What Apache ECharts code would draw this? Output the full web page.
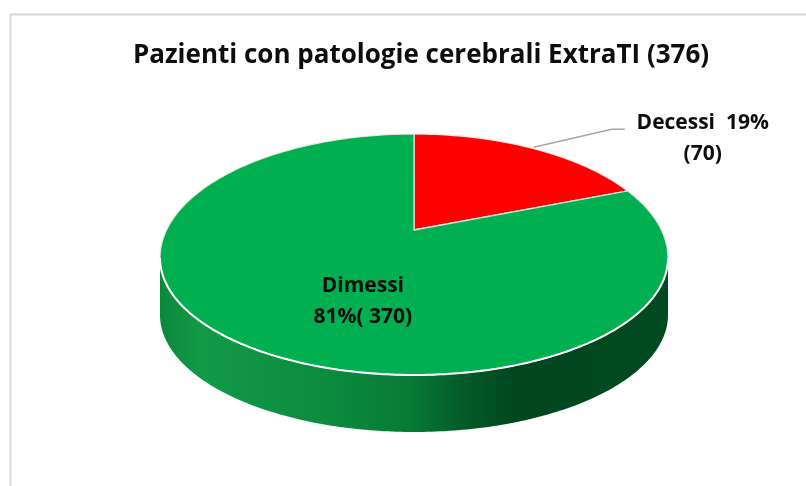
<!DOCTYPE html>
<html>
<head>
<meta charset="utf-8">
<script src="https://cdn.jsdelivr.net/npm/echarts@6/dist/echarts.min.js"></script>
<style>
  html, body { margin: 0; padding: 0; background: #ffffff; }
  #chart { width: 806px; height: 486px; }
</style>
</head>
<body>
<div id="chart"></div>
<script>
// Patient outcomes
const categories = ['Decessi', 'Dimessi'];
const counts = [70, 370];
const percentLabels = ['19%', '81%'];
const sliceColors = ['#ff0000', '#00b050'];
const titleText = 'Pazienti con patologie cerebrali ExtraTI (376)';

// Geometry of the tilted pie (pixels)
const CX = 414, CY = 258;       // centre of the top ellipse
const RX = 254;                 // horizontal radius
const RY_BACK = 124;            // vertical radius, far half
const RY_FRONT = 117;           // vertical radius, near half
const DEPTH = 57;               // thickness of the disc
const APEX = [414, 230];        // where slice edges meet on the top face
const FONT = '"Open Sans", "Noto Sans", sans-serif';

// point on the rim, angle in degrees clockwise from 12 o'clock
function rim(deg, dz) {
  const t = deg * Math.PI / 180;
  const c = Math.cos(t);
  return [CX + RX * Math.sin(t), CY - (c > 0 ? RY_BACK : RY_FRONT) * c + dz];
}
function arc(a0, a1, dz) {
  const pts = [];
  const n = Math.max(2, Math.ceil(a1 - a0));
  for (let k = 0; k <= n; k++) pts.push(rim(a0 + (a1 - a0) * k / n, dz));
  return pts;
}

const wallFill = new echarts.graphic.LinearGradient(CX - RX, 0, CX + RX, 0, [
  { offset: 0.00, color: '#0b873b' },
  { offset: 0.08, color: '#129a47' },
  { offset: 0.35, color: '#0b8a3e' },
  { offset: 0.50, color: '#077934' },
  { offset: 0.60, color: '#035a28' },
  { offset: 0.70, color: '#00461f' },
  { offset: 1.00, color: '#004a21' }
], true);

function renderSlice(params, api) {
  const i = params.dataIndex;
  const total = counts.reduce((s, v) => s + v, 0);
  let before = 0;
  for (let k = 0; k < i; k++) before += counts[k];
  const a0 = before / total * 360;
  const a1 = (before + api.value(0)) / total * 360;
  const children = [];

  // visible side wall (front half only)
  const w0 = Math.max(a0, 90), w1 = Math.min(a1, 270);
  if (w1 > w0) {
    const top = arc(w0, w1, 0);
    const bottom = arc(w0, w1, DEPTH).reverse();
    children.push({ type: 'polygon', z2: 1, shape: { points: top.concat(bottom) },
      style: { fill: wallFill } });
    children.push({ type: 'polyline', z2: 4, shape: { points: top },
      style: { stroke: '#ffffff', lineWidth: 2, fill: null } });
  }

  // top face
  children.push({ type: 'polygon', z2: 2, shape: { points: [APEX].concat(arc(a0, a1, 0)) },
    style: { fill: sliceColors[i], stroke: 'rgba(235,235,235,0.9)', lineWidth: 1.3 } });

  // label
  const mid = (a0 + a1) / 2;
  const textStyle = { fill: '#0d0d0d', fontFamily: FONT, fontWeight: 'bold', fontSize: 21,
    align: 'center', verticalAlign: 'middle', lineHeight: 31 };
  if (a1 - a0 < 90) {
    const s = rim(mid, 0);
    const elbow = [s[0] + 76, s[1] - 20];
    const end = [elbow[0] + 13, elbow[1]];
    children.push({ type: 'polyline', z2: 5, shape: { points: [[s[0] - 2, s[1] - 2], elbow, end] },
      style: { stroke: '#a6a6a6', lineWidth: 1.5, fill: null } });
    children.push({ type: 'text', z2: 6, x: end[0] + 78, y: end[1] + 9,
      style: Object.assign({ text: categories[i] + '  ' + percentLabels[i] + '\n(' + counts[i] + ')' }, textStyle) });
  } else {
    const p = rim(mid, 0);
    const f = 0.42;
    children.push({ type: 'text', z2: 6, x: CX + (p[0] - CX) * f, y: CY + (p[1] - CY) * f,
      style: Object.assign({ text: categories[i] + '\n' + percentLabels[i] + '( ' + counts[i] + ')' }, textStyle) });
  }
  return { type: 'group', children: children };
}

const chart = echarts.init(document.getElementById('chart'), null, { renderer: 'canvas' });
chart.setOption({
  backgroundColor: '#ffffff',
  animation: false,
  title: {
    text: titleText,
    left: 416,
    top: 38,
    textAlign: 'center',
    textStyle: { fontFamily: FONT, fontWeight: 'bold', fontSize: 26, color: '#0d0d0d' }
  },
  graphic: [{
    type: 'rect', left: 8, top: 12, silent: true,
    shape: { width: 820, height: 500 },
    style: { fill: null, stroke: '#d9d9d9', lineWidth: 2 }
  }],
  series: [{
    type: 'custom',
    coordinateSystem: 'none',
    silent: true,
    data: counts.map((v, i) => ({ name: categories[i], value: [v] })),
    renderItem: renderSlice
  }]
});
</script>
</body>
</html>
